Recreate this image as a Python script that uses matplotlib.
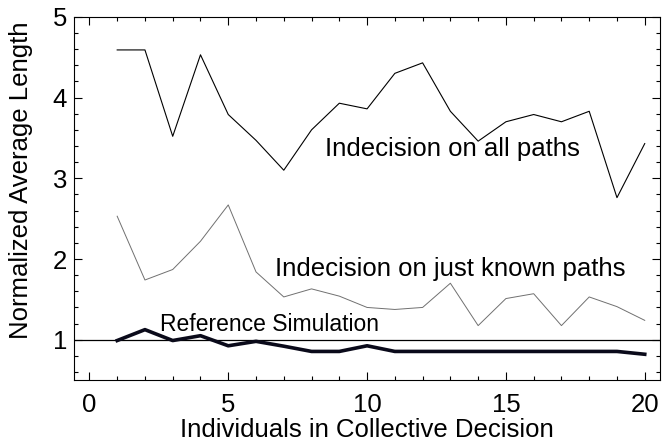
import numpy as np
import matplotlib.pyplot as plt
from matplotlib.ticker import MultipleLocator

plt.rcParams['font.family'] = ['Liberation Sans', 'DejaVu Sans']

# Data
individuals = np.arange(1, 21)
all_paths = [4.59, 4.59, 3.52, 4.53, 3.79, 3.47, 3.10, 3.60, 3.93, 3.86,
             4.30, 4.43, 3.83, 3.46, 3.70, 3.79, 3.70, 3.83, 2.76, 3.43]
known_paths = [2.53, 1.74, 1.87, 2.22, 2.67, 1.84, 1.53, 1.63, 1.54, 1.40,
               1.375, 1.40, 1.70, 1.175, 1.51, 1.57, 1.175, 1.53, 1.41, 1.24]
reference = [0.99, 1.125, 0.99, 1.05, 0.925, 0.98, 0.92, 0.855, 0.855, 0.925,
             0.855, 0.855, 0.855, 0.855, 0.855, 0.855, 0.855, 0.855, 0.855, 0.82]

fig = plt.figure(figsize=(6.62, 4.43), dpi=100)
ax = fig.add_axes([0.112, 0.142, 0.885, 0.82])

ax.axhline(1.0, color='black', linewidth=0.9)
ax.plot(individuals, all_paths, color='black', linewidth=0.8)
ax.plot(individuals, known_paths, color='#707070', linewidth=0.7)
ax.plot(individuals, reference, color='#0a0a1a', linewidth=2.6)

ax.text(8.5, 3.36, 'Indecision on all paths', fontsize=18.5, va='center')
ax.text(6.7, 1.875, 'Indecision on just known paths', fontsize=18.5, va='center')
ax.text(2.55, 1.19, 'Reference Simulation', fontsize=16.5, va='center')

ax.set_xlim(-0.55, 20.55)
ax.set_ylim(0.5, 5.0)
ax.xaxis.set_major_locator(MultipleLocator(5))
ax.xaxis.set_minor_locator(MultipleLocator(1))
ax.yaxis.set_major_locator(MultipleLocator(1))
ax.yaxis.set_minor_locator(MultipleLocator(0.2))
ax.tick_params(which='both', direction='in', top=True, right=True,
               labelsize=18.5, width=0.8)
ax.tick_params(which='major', length=6)
ax.tick_params(which='minor', length=3)
ax.tick_params(axis='x', pad=9)
ax.tick_params(axis='y', pad=5)

ax.set_xlabel('Individuals in Collective Decision', fontsize=18.5)
ax.set_ylabel('Normalized Average Length', fontsize=18.5)
ax.xaxis.set_label_coords(0.5, -0.105)
ax.yaxis.set_label_coords(-0.07, 0.551)

fig.savefig('out.png', dpi=100)
